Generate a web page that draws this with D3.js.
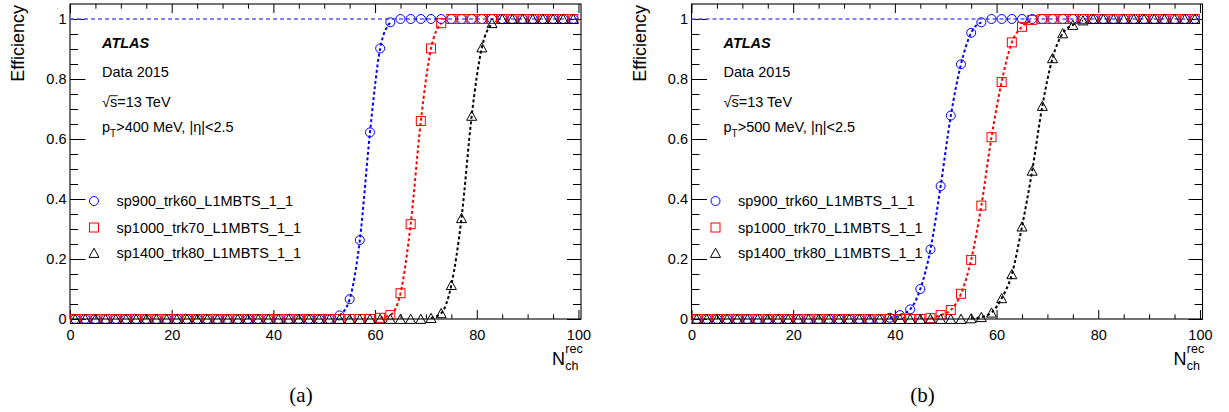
<!DOCTYPE html>
<html>
<head>
<meta charset="utf-8">
<script src="https://cdn.jsdelivr.net/npm/d3@7"></script>
<style>
  html, body { margin: 0; padding: 0; background: #fff; }
  svg { display: block; font-family: "Liberation Sans", Arial, sans-serif; }
</style>
</head>
<body>
<svg id="chart" width="1229" height="412"></svg>
<script>
// ---------------- DATA ----------------
const binCenters = [1,3,5,7,9,11,13,15,17,19,21,23,25,27,29,31,33,35,37,39,
  41,43,45,47,49,51,53,55,57,59,61,63,65,67,69,71,73,75,77,79,
  81,83,85,87,89,91,93,95,97,99];

const seriesNames = ["sp900_trk60_L1MBTS_1_1", "sp1000_trk70_L1MBTS_1_1", "sp1400_trk80_L1MBTS_1_1"];

// panel (a): pT > 400 MeV
const effA_sp900 = [0,0,0,0,0,0,0,0,0,0, 0,0,0,0,0,0,0,0,0,0, 0,0,0,0,0,0,
  0.012,0.066,0.263,0.622,0.902,0.989,
  1,1,1,1,1,1,1,1,1,1, 1,1,1,1,1,1,1,1];
const effA_sp1000 = [0,0,0,0,0,0,0,0,0,0, 0,0,0,0,0,0,0,0,0,0, 0,0,0,0,0,0,0,0,0,0,
  0.004,0.013,0.086,0.316,0.660,0.902,0.986,
  1,1,1,1,1,1,1,1,1,1, 1,1,1];
const effA_sp1400 = [0,0,0,0,0,0,0,0,0,0, 0,0,0,0,0,0,0,0,0,0, 0,0,0,0,0,0,0,0,0,0, 0,0,0,0,0,
  0.003,0.019,0.113,0.336,0.677,0.905,0.986,
  1,1,1,1,1,1,1,1];

// panel (b): pT > 500 MeV
const effB_sp900 = [0,0,0,0,0,0,0,0,0,0, 0,0,0,0,0,0,0,0,0,
  0.004,0.013,0.032,0.100,0.232,0.443,0.678,0.849,0.954,0.989,
  1,1,1,1,1,1,1,1,1,1, 1,1,1,1,1,1,1,1,1,1, 1];
const effB_sp1000 = [0,0,0,0,0,0,0,0,0,0, 0,0,0,0,0,0,0,0,0,0, 0,0,0,
  0.003,0.013,0.030,0.084,0.197,0.378,0.606,0.790,0.922,0.974,0.997,
  1,1,1,1,1,1,1,1,1,1, 1,1,1,1,1,1];
const effB_sp1400 = [0,0,0,0,0,0,0,0,0,0, 0,0,0,0,0,0,0,0,0,0, 0,0,0,0,0,0,0,
  0.002,0.006,0.021,0.069,0.149,0.308,0.494,0.710,0.869,0.952,0.980,0.995,
  1,1,1,1,1,1,1,1,1,1, 1];

const xTickValues = [0, 20, 40, 60, 80, 100];
const xTickLabels = ["0", "20", "40", "60", "80", "100"];
const yTickValues = [0, 0.2, 0.4, 0.6, 0.8, 1];
const yTickLabels = ["0", "0.2", "0.4", "0.6", "0.8", "1"];
const xMinorTicks = d3.range(0, 101, 5);
const yMinorTicks = d3.range(0, 21).map(i => i * 0.05);

const ptLabels = [">400 MeV, |η|<2.5", ">500 MeV, |η|<2.5"];
const captions = ["(a)", "(b)"];

// ---------------- DRAW ----------------
const svg = d3.select("#chart");
const colors = ["#0000ff", "#ff0000", "#000000"];
const FS = 14.5;

const panels = [
  { x0: 70, data: [effA_sp900, effA_sp1000, effA_sp1400], pt: ptLabels[0], cap: captions[0] },
  { x0: 691.5, data: [effB_sp900, effB_sp1000, effB_sp1400], pt: ptLabels[1], cap: captions[1] }
];

function marker(sel, kind, color) {
  if (kind === 0) {
    sel.append("circle").attr("r", 4.5).attr("fill", "none").attr("stroke", color).attr("stroke-width", 1);
  } else if (kind === 1) {
    sel.append("rect").attr("x", -4.5).attr("y", -4.5).attr("width", 9).attr("height", 9)
      .attr("fill", "none").attr("stroke", color).attr("stroke-width", 1);
  } else {
    sel.append("path").attr("d", "M0,-4.8L5,4.4L-5,4.4Z")
      .attr("fill", "none").attr("stroke", color).attr("stroke-width", 1);
  }
}

panels.forEach(p => {
  const W = 511, top = 4, bottom = 319;
  const x = d3.scaleLinear().domain([0, 100.5]).range([p.x0, p.x0 + W]);
  const y = d3.scaleLinear().domain([0, 1.05]).range([bottom, top]);
  const g = svg.append("g");

  // frame
  g.append("rect").attr("x", p.x0).attr("y", top).attr("width", W).attr("height", bottom - top)
    .attr("fill", "none").attr("stroke", "#000").attr("stroke-width", 1.1);

  // bottom axis (major with labels)
  const xb = g.append("g").attr("transform", `translate(0,${bottom})`)
    .call(d3.axisBottom(x).tickValues(xTickValues).tickSize(-9).tickPadding(10.5)
      .tickFormat((d, i) => xTickLabels[i]));
  const xbm = g.append("g").attr("transform", `translate(0,${bottom})`)
    .call(d3.axisBottom(x).tickValues(xMinorTicks.filter(v => v % 20 !== 0)).tickSize(-4.7).tickFormat(""));
  // top axis
  const xt = g.append("g").attr("transform", `translate(0,${top})`)
    .call(d3.axisTop(x).tickValues(xTickValues).tickSize(-9).tickFormat(""));
  const xtm = g.append("g").attr("transform", `translate(0,${top})`)
    .call(d3.axisTop(x).tickValues(xMinorTicks.filter(v => v % 20 !== 0)).tickSize(-4.7).tickFormat(""));
  // left axis
  const yl = g.append("g").attr("transform", `translate(${p.x0},0)`)
    .call(d3.axisLeft(y).tickValues(yTickValues).tickSize(-15.5).tickPadding(3.5)
      .tickFormat((d, i) => yTickLabels[i]));
  const ylm = g.append("g").attr("transform", `translate(${p.x0},0)`)
    .call(d3.axisLeft(y).tickValues(yMinorTicks.filter((v, i) => i % 4 !== 0)).tickSize(-8).tickFormat(""));
  // right axis
  const yr = g.append("g").attr("transform", `translate(${p.x0 + W},0)`)
    .call(d3.axisRight(y).tickValues(yTickValues).tickSize(-14).tickFormat(""));
  const yrm = g.append("g").attr("transform", `translate(${p.x0 + W},0)`)
    .call(d3.axisRight(y).tickValues(yMinorTicks.filter((v, i) => i % 4 !== 0)).tickSize(-8).tickFormat(""));

  [xb, xbm, xt, xtm, yl, ylm, yr, yrm].forEach(a => {
    a.select(".domain").remove();
    a.selectAll("line").attr("stroke", "#000").attr("stroke-width", 1);
    a.selectAll("text").attr("font-size", FS).attr("fill", "#000")
      .attr("font-family", "Liberation Sans, Arial, sans-serif");
  });

  // axis titles
  g.append("text").attr("transform", `translate(${p.x0 - 46},5) rotate(-90)`)
    .attr("text-anchor", "end").attr("font-size", 18).text("Efficiency");
  const xtx = p.x0 + 482;
  g.append("text").attr("x", xtx).attr("y", 365).attr("font-size", 18).text("N");
  g.append("text").attr("x", xtx + 13.3).attr("y", 353).attr("font-size", 12.5).text("rec");
  g.append("text").attr("x", xtx + 13.3).attr("y", 369.5).attr("font-size", 12.5).text("ch");

  // reference line at efficiency 1
  g.append("line").attr("x1", x(0)).attr("x2", x(100.5)).attr("y1", y(1)).attr("y2", y(1))
    .attr("stroke", "#5a5aff").attr("stroke-width", 1.3).attr("stroke-dasharray", "4,3");

  // curves through the turn-on points
  p.data.forEach((vals, si) => {
    const pts = binCenters.map((c, i) => [c, vals[i]]).filter(d => d[1] > 0 && d[1] < 1);
    g.append("path").datum(pts)
      .attr("d", d3.line().x(d => x(d[0])).y(d => y(d[1])).curve(d3.curveMonotoneX))
      .attr("fill", "none").attr("stroke", colors[si]).attr("stroke-width", 2)
      .attr("stroke-dasharray", "3,2.5");
  });

  // markers
  p.data.forEach((vals, si) => {
    binCenters.forEach((c, i) => {
      const m = g.append("g").attr("transform", `translate(${x(c)},${y(vals[i])})`);
      marker(m, si, colors[si]);
    });
  });

  // annotations
  const tx = p.x0 + 32;
  g.append("text").attr("x", tx).attr("y", 47.7).attr("font-size", FS)
    .attr("font-weight", "bold").attr("font-style", "italic").text("ATLAS");
  g.append("text").attr("x", tx).attr("y", 76.7).attr("font-size", FS).text("Data 2015");
  const sq = g.append("text").attr("x", tx).attr("y", 106.7).attr("font-size", FS);
  sq.append("tspan").text("√");
  sq.append("tspan").text("s");
  sq.append("tspan").text("=13 TeV");
  const n = sq.node();
  const s0 = n.getStartPositionOfChar(1).x, s1 = n.getEndPositionOfChar(1).x;
  const r0 = n.getEndPositionOfChar(0).x;
  g.append("line").attr("x1", Math.min(r0, s0) - 0.5).attr("x2", s1 + 0.5)
    .attr("y1", 106.7 - 11).attr("y2", 106.7 - 11).attr("stroke", "#000").attr("stroke-width", 0.9);
  const pt = g.append("text").attr("x", tx).attr("y", 131.7).attr("font-size", FS);
  pt.append("tspan").text("p");
  pt.append("tspan").attr("font-size", 10).attr("dy", 5).text("T");
  pt.append("tspan").attr("dy", -5).text(p.pt);

  // legend
  const ly = [201, 227.5, 253];
  seriesNames.forEach((name, si) => {
    const m = g.append("g").attr("transform", `translate(${p.x0 + 24},${ly[si]})`);
    marker(m, si, colors[si]);
    g.append("text").attr("x", p.x0 + 46.5).attr("y", ly[si] + 5.3).attr("font-size", FS).text(name);
  });

  // caption
  svg.append("text").attr("x", p.x0 + 231).attr("y", 402).attr("text-anchor", "middle")
    .attr("font-family", "Liberation Serif, Times New Roman, serif").attr("font-size", 21).text(p.cap);
});
</script>
</body>
</html>
